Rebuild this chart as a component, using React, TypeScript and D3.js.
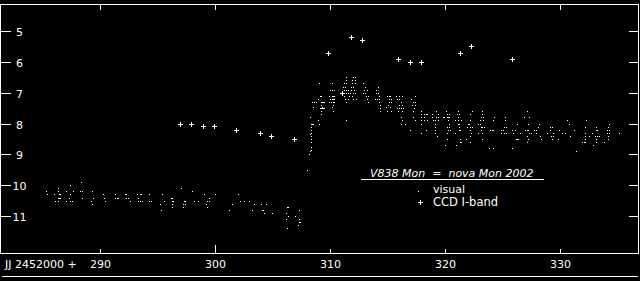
import React from "react";
import * as d3 from "d3";

const W = 640;
const H = 281;

// X axis ticks (JD - 2452000)
const xTicks = [290, 300, 310, 320, 330];
const yTicks = [5, 6, 7, 8, 9, 10, 11];

// CCD I-band
const ccdDays = [297.02, 297.97, 299.02, 299.97, 301.89, 303.97, 304.93, 306.93, 309.89, 311.11, 311.89, 312.85, 315.97, 317.02, 317.92, 321.37, 322.33, 325.89];
const ccdMags = [8.0, 8.0, 8.09, 8.09, 8.22, 8.32, 8.41, 8.51, 5.72, 7.02, 5.2, 5.3, 5.92, 6.02, 6.02, 5.72, 5.49, 5.92];

// Visual estimates [day, mag]
const visualPre1: [number, number][] = [
  [285.37,10.2],[285.45,10.3],[286.06,10.3],[286.15,10.5],[286.41,10.1],[286.41,10.2],[286.5,10.3],[286.59,10.3],
  [286.41,10.4],[286.5,10.4],[286.59,10.4],[286.41,10.5],[287.11,10.2],[287.11,10.5],[287.45,10.0],[287.45,10.3],
  [287.37,10.4],[287.45,10.5],[287.63,10.5],[287.72,10.2],[288.41,9.9],[288.33,10.2],[288.5,10.2],[288.5,10.4],
  [289.37,10.2],[289.46,10.4],[289.28,10.5],[289.37,10.6],[290.33,10.3],[290.41,10.4],[290.5,10.5],
  [291.37,10.3],[291.37,10.4],[291.54,10.4],[291.63,10.4],[292.24,10.3],[292.33,10.3],[292.33,10.4],[292.5,10.4],
  [292.68,10.5],[293.29,10.3],[293.55,10.3],[293.63,10.3],[293.37,10.4],[293.37,10.5],[293.55,10.5],[293.72,10.5],
  [294.33,10.3],[294.33,10.5],[294.5,10.5],[295.28,10.6],[295.37,10.8],[295.46,10.3],[295.63,10.5],
];
const visualPre2: [number, number][] = [
  [296.21,10.4],[296.3,10.4],[296.3,10.5],[296.38,10.5],[296.3,10.6],[296.3,10.7],[297.11,10.1],[297.37,10.5],
  [297.45,10.5],[297.28,10.6],[297.45,10.6],[297.28,10.7],[298.06,10.2],[298.24,10.5],[298.59,10.5],
  [299.11,10.3],[299.37,10.5],[299.54,10.5],[299.54,10.4],[299.28,10.6],[299.37,10.7],[300.06,10.3],
  [301.28,10.8],[301.54,10.6],[302.06,10.3],[302.24,10.5],[302.59,10.5],[303.02,10.5],[303.28,10.8],[303.45,10.6],
  [304.06,10.6],[304.15,10.8],[304.24,10.8],[304.32,10.9],[304.5,10.6],[305.02,10.9],
  [306.24,10.9],[306.32,10.7],[306.41,10.7],[306.41,11.0],[306.24,11.1],[307.02,11.0],[307.37,10.8],
  [307.37,11.1],[307.45,11.2],[307.37,11.2],[307.28,11.3],[306.32,11.4],
];
const visualRise: [number, number][] = [
  [308.5,8.0],[308.41,8.0],[308.59,8.0],[308.41,8.1],[308.41,8.2],[308.41,8.3],[308.32,8.35],[308.41,8.4],
  [308.41,8.5],[308.41,8.6],[308.41,8.75],[308.41,8.85],[308.32,8.9],[308.24,9.0],[308.06,9.5],[308.32,7.8],
  [308.5,7.3],[308.67,7.3],[308.59,7.45],[308.85,7.3],[309.02,7.2],[309.19,7.1],[309.28,7.1],[309.28,7.3],
  [309.37,7.3],[309.45,7.3],[309.54,7.3],[309.28,7.4],[309.37,7.45],[309.19,7.5],[309.28,7.5],[309.37,7.5],
  [309.45,7.5],[309.54,7.5],[309.28,7.6],[309.28,7.7],[309.02,7.9],[309.11,8.0],[309.11,6.7],
  [310.06,6.9],[310.24,6.9],[310.41,6.9],[309.98,7.1],[310.24,7.1],[310.32,7.1],[310.41,7.1],[310.06,7.2],
  [310.24,7.2],[310.32,7.2],[310.41,7.2],[309.98,7.3],[310.15,7.3],[310.32,7.3],[310.41,7.3],[310.32,7.4],
  [310.24,7.45],[310.32,7.6],[310.24,6.7],
];
const visualPeak: [number, number][] = [
  [311.45,6.5],[311.45,6.6],[311.28,6.7],[311.45,6.7],[311.19,6.8],[311.37,6.8],[311.28,6.9],[311.45,6.9],
  [311.63,6.9],[311.19,7.0],[311.45,7.0],[311.63,7.0],[311.28,7.1],[311.37,7.2],[311.63,7.2],[311.45,7.3],
  [312.06,6.5],[312.24,6.5],[311.98,6.6],[312.24,6.6],[311.98,6.7],[312.24,6.7],[311.89,6.8],[312.06,6.8],
  [311.89,6.9],[312.15,6.9],[311.8,7.0],[312.06,7.0],[312.24,7.0],[311.72,7.1],[311.98,7.1],[312.06,7.2],
  [312.32,7.2],[311.45,7.9],[312.93,6.7],[313.11,6.8],[313.02,6.9],[313.28,6.9],[313.11,7.0],[312.93,7.0],
  [313.37,7.1],[313.19,7.1],[313.28,7.2],[313.37,7.3],[314.24,6.8],[314.06,6.9],[314.06,7.0],[314.24,7.0],
  [314.32,7.1],[313.98,7.2],[314.15,7.2],[314.32,7.2],[314.32,7.3],[314.41,7.4],[314.41,7.5],[314.41,7.6],
  [315.02,7.1],[315.19,7.1],[315.28,7.1],[315.19,7.2],[315.37,7.2],[315.19,7.3],[315.37,7.3],[315.11,7.4],
  [314.93,7.45],[315.28,7.45],[315.02,7.6],[315.37,7.6],[315.8,7.1],[316.06,7.1],[316.32,7.1],[315.89,7.2],
  [316.06,7.2],[316.24,7.3],[316.06,7.4],[316.32,7.4],[315.89,7.5],[316.06,7.5],[316.24,7.5],[316.41,7.5],
  [315.98,7.6],[316.32,7.6],[316.24,7.8],[316.32,7.9],[316.24,8.0],[316.59,8.0],[317.02,8.2],
  [317.11,7.2],[317.45,7.1],[317.28,7.3],[317.45,7.3],[317.19,7.4],[317.45,7.4],[317.37,7.5],[317.28,7.6],
  [317.28,7.8],[317.45,7.9],
];
const visualDecline1: [number, number][] = [
  [317.98,7.6],[317.98,7.7],[317.98,7.8],[317.98,7.9],[317.98,8.0],[317.98,8.3],[318.24,7.7],[318.41,7.7],
  [318.5,7.7],[318.24,7.8],[318.24,7.9],[318.5,7.9],[318.41,8.2],[318.93,7.7],[318.93,7.8],[319.02,7.9],
  [319.28,7.6],[319.45,7.7],[319.28,7.8],[319.45,7.8],[319.19,7.9],[319.45,7.9],[319.19,8.0],[319.19,8.1],
  [319.19,8.2],[319.19,8.3],[319.37,8.4],[319.89,7.8],[319.98,7.8],[320.15,7.6],[320.24,7.7],[320.41,7.7],
  [320.24,7.8],[320.32,7.8],[320.41,7.8],[320.32,7.9],[320.41,8.0],[320.24,8.1],[320.41,8.1],[320.32,8.2],
  [320.5,8.2],[320.24,8.3],[320.24,8.5],[320.06,8.7],[320.93,7.9],[321.19,7.6],[321.28,7.7],[321.11,7.7],
  [321.19,7.8],[321.19,7.9],[321.45,7.9],[321.19,8.0],[321.28,8.0],[321.28,8.1],[321.28,8.2],[321.37,8.2],
  [320.93,8.3],[321.37,8.5],[321.37,8.6],[321.45,8.6],[321.02,8.7],[321.98,8.1],[322.06,8.0],[322.15,8.0],
  [322.24,7.9],[322.41,7.6],[322.24,7.7],[322.24,8.1],[322.41,8.1],[322.24,8.2],[322.32,8.3],[322.24,8.4],
  [321.89,8.5],[322.24,8.6],[322.93,8.0],[323.11,8.0],[323.19,8.1],[323.19,8.2],[323.28,7.6],[323.28,7.7],
  [323.19,7.8],[323.37,7.8],[323.37,7.9],[323.11,7.9],[323.28,8.1],[323.45,8.1],[322.93,8.3],[323.28,8.3],
  [323.28,8.5],[323.98,8.2],[324.15,8.2],[324.24,8.2],[324.32,7.8],[324.24,7.9],[323.89,8.8],[324.24,8.8],
  [324.93,8.2],[325.11,8.2],[324.93,8.3],[325.19,8.3],[325.28,7.8],[325.19,8.1],[325.37,8.1],[325.28,7.9],
  [325.37,8.3],[325.89,8.2],[326.15,8.2],[325.98,8.3],[326.32,8.0],[326.59,8.3],[326.24,8.5],[326.32,8.5],
  [326.41,8.5],[325.89,8.8],[327.02,8.2],[326.93,7.8],
];
const visualDecline2: [number, number][] = [
  [327.19,7.6],[327.37,7.8],[327.28,8.0],[327.19,8.2],[327.28,8.2],[327.37,8.3],[327.54,8.3],[327.19,8.4],
  [327.28,8.5],[327.19,8.6],[327.8,8.2],[327.98,8.2],[327.98,8.3],[328.15,8.1],[328.24,8.0],[328.32,8.4],
  [328.41,8.5],[328.93,8.3],[329.19,8.1],[329.37,8.1],[329.19,8.2],[329.28,8.4],[329.45,8.4],[329.37,8.5],
  [329.45,8.3],[329.89,8.5],[329.98,8.2],[330.24,8.3],[330.5,8.3],[330.67,7.9],[330.85,8.0],[330.93,8.4],
  [331.28,8.2],[331.45,8.9],[331.98,8.6],[332.15,8.6],[332.24,8.6],[332.24,8.4],[332.24,8.3],[332.32,7.9],
  [332.24,8.1],[332.24,8.5],[332.59,8.4],[332.85,8.3],[333.19,8.1],[333.19,8.2],[333.28,8.2],[333.11,8.4],
  [333.28,8.4],[333.45,8.4],[333.19,8.5],[333.19,8.6],[332.93,8.7],[333.89,8.6],[334.24,8.1],[334.32,8.0],
  [334.15,8.2],[334.32,8.2],[334.15,8.3],[334.32,8.3],[334.24,8.4],[334.24,8.5],[335.19,8.3],
];

const visualAll = [...visualPre1, ...visualPre2, ...visualRise, ...visualPeak, ...visualDecline1, ...visualDecline2];

const FONT = "'DejaVu Sans', sans-serif";

export default function App() {
  const x = d3.scaleLinear().domain([290, 330]).range([99.6, 559.6]);
  const y = d3.scaleLinear().domain([5, 11]).range([31, 216]);

  const left = 0.5, right = 638.5, top = 4.5, bottom = 253.5;

  return (
    <svg
      width={W}
      height={H}
      style={{ position: "fixed", left: 0, top: 0, background: "#000", display: "block" }}
      shapeRendering="crispEdges"
    >
      <rect x={0} y={0} width={W} height={H} fill="#000" />
      {/* frame */}
      <rect x={left} y={top} width={right - left} height={bottom - top} fill="none" stroke="#fff" strokeWidth={1} />
      {/* second bottom line */}
      <line x1={2} x2={638} y1={276.5} y2={276.5} stroke="#fff" strokeWidth={1} />

      {/* y ticks */}
      {yTicks.map((t) => {
        const yy = Math.round(y(t)) + 0.5;
        return (
          <g key={"y" + t}>
            <line x1={0} x2={11} y1={yy} y2={yy} stroke="#fff" />
            <line x1={629} x2={639} y1={yy} y2={yy} stroke="#fff" />
            <text x={19.5} y={yy + 4} fill="#fff" fontFamily={FONT} fontSize={11} textAnchor="middle">
              {t}
            </text>
          </g>
        );
      })}

      {/* x ticks */}
      {xTicks.map((t) => {
        const xx = Math.round(x(t)) + 0.5;
        const len = t === 300 ? 9 : 5;
        return (
          <g key={"x" + t}>
            <line x1={xx} x2={xx} y1={bottom} y2={bottom - len} stroke="#fff" />
            <line x1={xx} x2={xx} y1={top} y2={top + 5} stroke="#fff" />
            <text x={xx} y={268} fill="#fff" fontFamily={FONT} fontSize={11} textAnchor="middle">
              {t}
            </text>
          </g>
        );
      })}
      <text x={5} y={268} fill="#fff" fontFamily={FONT} fontSize={11}>
        JJ 2452000 +
      </text>

      {/* visual points */}
      {visualAll.map(([d, m], i) => (
        <rect key={"v" + i} x={Math.round(x(d))} y={Math.round(y(m))} width={1} height={1} fill="#fff" />
      ))}

      {/* CCD crosses */}
      {ccdDays.map((d, i) => {
        const cx = Math.round(x(d));
        const cy = Math.round(y(ccdMags[i]));
        return (
          <g key={"c" + i} fill="#fff">
            <rect x={cx - 2} y={cy} width={5} height={1} />
            <rect x={cx} y={cy - 2} width={1} height={5} />
          </g>
        );
      })}

      {/* legend */}
      <text x={370} y={177} fill="#fff" fontFamily={FONT} fontSize={11} fontStyle="italic" style={{ whiteSpace: "pre" }}>
        {"V838 Mon  =  nova Mon 2002"}
      </text>
      <line x1={361} x2={544} y1={179.5} y2={179.5} stroke="#fff" />
      <rect x={418} y={191} width={1} height={1} fill="#fff" />
      <text x={433} y={193} fill="#fff" fontFamily={FONT} fontSize={11}>
        visual
      </text>
      <g fill="#fff">
        <rect x={418} y={202} width={5} height={1} />
        <rect x={420} y={200} width={1} height={5} />
      </g>
      <text x={433} y={206} fill="#fff" fontFamily={FONT} fontSize={11.5}>
        CCD I-band
      </text>
    </svg>
  );
}
